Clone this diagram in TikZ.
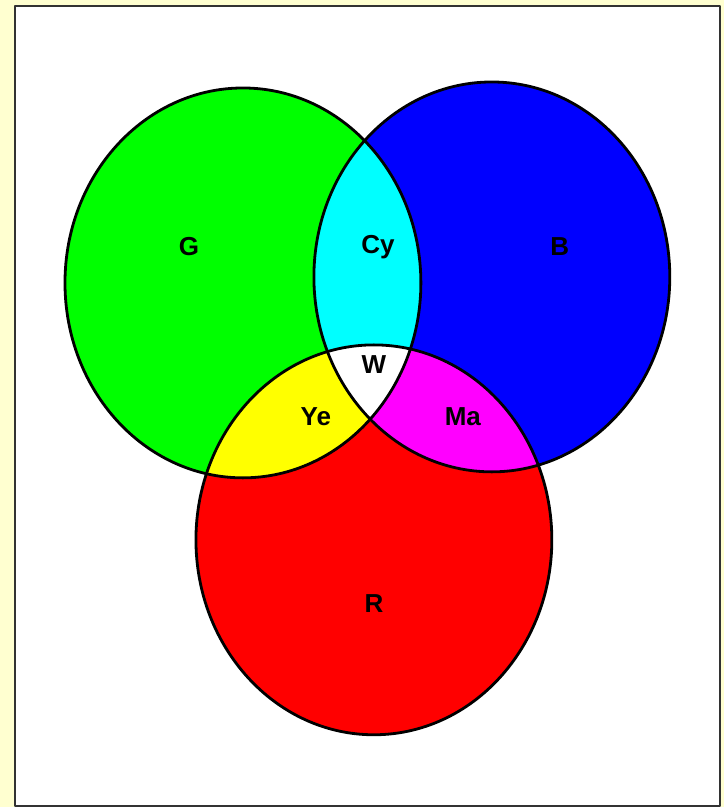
\documentclass[tikz,border=0pt]{standalone}
\usepackage{fontspec}
\setmainfont{Liberation Sans}
\definecolor{paper}{RGB}{255,255,208}
\definecolor{frame}{RGB}{50,50,50}
\definecolor{cy}{RGB}{0,255,255}
\definecolor{ma}{RGB}{255,0,255}
\definecolor{ye}{RGB}{255,255,0}
\begin{document}
\begin{tikzpicture}[x=1pt,y=-1pt,font=\bfseries\fontsize{26}{26}\selectfont,line join=round,line cap=round]
	\tikzset{oval/.style={line width=2.8pt}}
	\def\rad{ellipse [x radius=178pt, y radius=195pt]}
	\fill[paper] (0,0) rectangle (724,807);
	\draw[fill=white,draw=frame,line width=2.5pt] (15,6) rectangle (720,806);
	\path
	(243,283) coordinate (G)
	(492,277) coordinate (B)
	(374,540) coordinate (R)
	;
	\foreach \c/\col in {G/green,B/blue,R/red}\fill[\col] (\c) \rad;
	\begin{scope}
		\clip (G) \rad;
		\fill[cy] (B) \rad;
		\fill[ye] (R) \rad;
	\end{scope}
	\begin{scope}
		\clip (B) \rad;
		\fill[ma] (R) \rad;
	\end{scope}
	\begin{scope}
		\clip (G) \rad;
		\clip (B) \rad;
		\fill[white] (R) \rad;
	\end{scope}
	\foreach \c in {G,B,R}\draw[oval] (\c) \rad;
	\foreach \n/\x/\y in {G/189/247,Cy/378/247,B/560/247,W/374/365,Ye/316/417,Ma/463/417,R/374/604}
	\node (l\n) at (\x,\y) {\n};
\end{tikzpicture}
\end{document}
